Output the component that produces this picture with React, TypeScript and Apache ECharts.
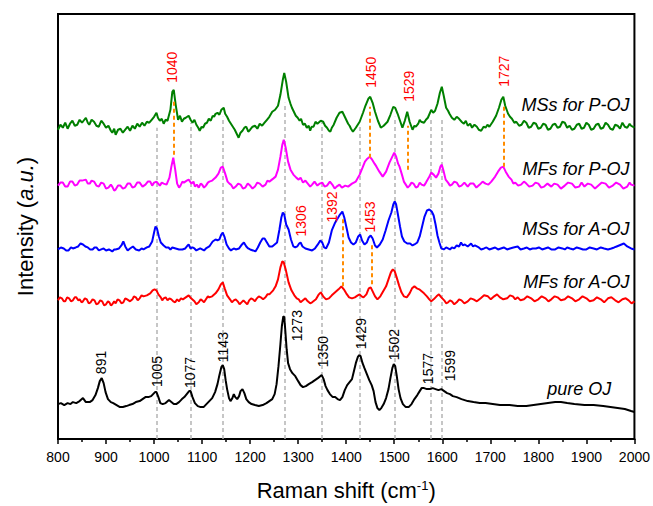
import React, { useEffect, useRef } from "react";
import * as echarts from "echarts";

// Raman shift (cm-1), intensity (a.u., vertically offset traces)
const msPOJ: [number, number][] = [
  [800,310],[805,315],[810,312],[815,317],[820,311],[825,316],[830,319],[835,314],[840,315],[845,320],[850,317],[858,322],[862,317],[865,315],[870,320],[875,318],[880,314],[885,313],[890,319],[895,316],[900,312],[905,314],[910,309],[913,307],[917,311],[920,305],[925,310],[930,311],[935,307],[940,310],[945,313],[950,309],[955,314],[960,311],[965,316],[970,313],[975,317],[980,314],[985,318],[990,317],[995,320],[1000,323],[1005,327],[1008,322],[1012,319],[1016,321],[1020,316],[1024,320],[1028,319],[1034,330],[1038,348],[1041,350],[1045,335],[1050,320],[1054,324],[1058,318],[1062,321],[1066,322],[1072,324],[1076,320],[1080,317],[1084,320],[1088,315],[1092,312],[1095,309],[1099,313],[1102,312],[1106,316],[1110,317],[1114,321],[1118,319],[1122,324],[1125,323],[1128,326],[1132,327],[1136,325],[1140,330],[1145,332],[1148,326],[1152,323],[1156,319],[1160,316],[1164,313],[1168,310],[1172,306],[1176,302],[1180,307],[1184,309],[1188,312],[1192,313],[1196,308],[1200,310],[1205,313],[1210,314],[1215,311],[1220,316],[1225,314],[1230,317],[1235,320],[1240,323],[1246,328],[1252,330],[1258,334],[1263,345],[1268,360],[1271,367],[1275,358],[1280,342],[1284,336],[1287,332],[1291,328],[1295,324],[1299,322],[1303,319],[1306,321],[1310,315],[1314,316],[1318,312],[1322,314],[1325,309],[1328,313],[1332,313],[1336,318],[1340,316],[1347,319],[1352,318],[1356,314],[1360,312],[1364,309],[1367,308],[1370,312],[1374,315],[1380,322],[1386,327],[1392,328],[1398,322],[1404,316],[1407,314],[1410,311],[1414,308],[1420,312],[1424,315],[1428,318],[1435,327],[1440,334],[1446,341],[1450,343],[1455,337],[1460,328],[1466,319],[1472,312],[1478,314],[1482,316],[1486,318],[1492,325],[1498,333],[1502,332],[1507,326],[1512,319],[1517,312],[1522,319],[1527,328],[1532,318],[1535,314],[1538,310],[1542,314],[1545,313],[1550,316],[1553,320],[1556,318],[1562,317],[1566,320],[1570,322],[1577,330],[1581,327],[1585,329],[1590,336],[1595,347],[1599,353],[1603,344],[1608,332],[1612,329],[1615,326],[1620,322],[1625,320],[1630,323],[1635,321],[1640,318],[1645,316],[1649,319],[1653,314],[1658,316],[1662,312],[1667,315],[1672,313],[1676,310],[1681,309],[1686,313],[1690,312],[1694,315],[1698,313],[1705,318],[1712,324],[1718,332],[1723,340],[1727,343],[1731,334],[1737,326],[1741,323],[1745,321],[1750,317],[1754,318],[1760,314],[1765,315],[1770,319],[1775,317],[1780,312],[1785,313],[1790,317],[1795,316],[1800,311],[1805,312],[1810,316],[1815,315],[1820,310],[1825,311],[1830,315],[1835,316],[1840,312],[1845,313],[1850,318],[1855,317],[1860,312],[1865,314],[1870,310],[1875,311],[1880,315],[1885,316],[1890,311],[1895,312],[1900,317],[1905,315],[1910,310],[1915,311],[1920,315],[1925,316],[1930,311],[1935,312],[1940,317],[1945,315],[1950,311],[1955,310],[1960,315],[1965,314],[1970,311],[1975,317],[1980,313],[1985,312],[1990,316],[1993,314],[2000,312]
];

const mfPOJ: [number, number][] = [
  [800,254],[805,257],[810,257],[815,253],[820,253],[825,258],[830,258],[835,254],[840,255],[845,259],[850,259],[858,260],[862,256],[866,256],[870,259],[875,258],[880,254],[885,253],[890,257],[895,256],[900,251],[905,252],[910,255],[913,253],[917,249],[920,250],[925,254],[930,254],[935,251],[940,252],[945,256],[950,256],[955,252],[960,253],[965,257],[970,257],[976,253],[982,255],[987,258],[992,258],[996,254],[1000,257],[1005,258],[1012,254],[1016,257],[1020,256],[1026,255],[1032,262],[1036,273],[1040,282],[1044,270],[1048,256],[1052,252],[1055,254],[1059,258],[1062,257],[1068,259],[1072,260],[1078,256],[1082,258],[1085,253],[1089,255],[1093,252],[1097,256],[1100,255],[1104,252],[1108,254],[1112,257],[1115,258],[1121,259],[1128,262],[1134,266],[1139,272],[1143,273],[1148,266],[1153,258],[1157,256],[1160,255],[1165,251],[1170,253],[1175,256],[1180,255],[1185,251],[1190,252],[1195,256],[1200,254],[1205,251],[1210,253],[1215,257],[1220,256],[1226,253],[1232,255],[1236,259],[1240,258],[1248,261],[1253,263],[1258,270],[1263,283],[1267,295],[1270,300],[1274,292],[1279,278],[1284,270],[1290,265],[1296,262],[1301,260],[1305,262],[1310,257],[1315,259],[1320,256],[1325,253],[1329,255],[1334,258],[1340,254],[1345,256],[1350,257],[1355,253],[1360,254],[1366,258],[1371,255],[1376,251],[1380,253],[1386,255],[1391,252],[1398,254],[1404,253],[1412,256],[1420,258],[1428,265],[1434,272],[1439,278],[1444,281],[1449,283],[1454,280],[1459,276],[1463,273],[1469,268],[1476,263],[1483,268],[1490,277],[1495,282],[1500,287],[1504,283],[1508,276],[1511,273],[1516,265],[1520,258],[1524,255],[1528,252],[1532,254],[1536,257],[1540,256],[1545,252],[1549,253],[1553,257],[1557,255],[1562,254],[1566,257],[1572,262],[1577,267],[1582,265],[1587,262],[1592,266],[1596,273],[1599,275],[1603,268],[1607,260],[1612,257],[1616,254],[1620,255],[1625,258],[1630,257],[1635,253],[1640,254],[1646,257],[1653,253],[1658,256],[1665,256],[1671,252],[1678,255],[1684,258],[1690,256],[1696,255],[1702,258],[1710,263],[1716,268],[1722,272],[1727,273],[1732,268],[1738,263],[1744,260],[1748,256],[1752,257],[1758,254],[1764,255],[1770,258],[1775,256],[1781,253],[1788,254],[1794,257],[1800,256],[1806,252],[1812,253],[1819,256],[1827,253],[1833,256],[1840,255],[1847,251],[1855,254],[1862,257],[1870,256],[1877,252],[1885,253],[1890,257],[1896,253],[1903,256],[1910,255],[1918,251],[1925,254],[1932,257],[1940,256],[1947,252],[1955,254],[1962,257],[1970,255],[1977,251],[1985,253],[1990,257],[1993,255],[2000,254]
];

const msAOJ: [number, number][] = [
  [800,190],[806,192],[812,191],[817,189],[822,189],[827,192],[831,191],[837,192],[842,193],[847,196],[852,195],[857,193],[862,192],[867,190],[872,190],[876,192],[880,192],[885,189],[890,190],[895,191],[900,189],[906,190],[913,188],[917,190],[920,190],[927,191],[932,194],[936,198],[940,193],[945,189],[950,191],[956,193],[962,190],[969,189],[974,191],[978,190],[985,192],[990,193],[996,198],[1000,207],[1003,213],[1006,211],[1010,203],[1014,197],[1020,194],[1025,192],[1030,192],[1034,190],[1038,192],[1045,191],[1052,190],[1059,190],[1065,191],[1070,194],[1072,195],[1076,191],[1080,192],[1084,191],[1088,189],[1092,190],[1096,191],[1100,190],[1104,189],[1108,191],[1115,193],[1122,198],[1128,200],[1132,199],[1136,200],[1140,205],[1143,207],[1147,202],[1151,195],[1156,191],[1160,189],[1163,190],[1167,191],[1170,190],[1177,191],[1183,195],[1187,197],[1192,193],[1196,191],[1200,190],[1206,189],[1211,188],[1216,192],[1221,197],[1226,201],[1230,201],[1235,197],[1240,193],[1246,193],[1251,195],[1256,197],[1261,210],[1265,222],[1268,227],[1271,225],[1275,215],[1280,210],[1285,200],[1290,193],[1294,192],[1298,193],[1302,196],[1305,197],[1309,193],[1315,191],[1322,190],[1329,189],[1335,191],[1341,195],[1346,199],[1350,197],[1354,192],[1358,191],[1364,197],[1370,209],[1376,216],[1382,221],[1387,225],[1392,228],[1396,222],[1401,211],[1405,202],[1410,197],[1415,195],[1420,197],[1425,203],[1429,205],[1433,199],[1438,195],[1443,197],[1447,202],[1451,204],[1455,201],[1460,194],[1464,192],[1470,195],[1476,200],[1482,209],[1488,219],[1494,227],[1498,235],[1501,238],[1504,235],[1508,224],[1512,213],[1516,203],[1521,198],[1527,196],[1533,196],[1538,194],[1542,195],[1548,197],[1553,203],[1558,213],[1563,223],[1568,229],[1573,230],[1578,228],[1582,224],[1586,215],[1590,204],[1594,197],[1598,191],[1603,190],[1608,192],[1612,191],[1616,190],[1620,192],[1625,191],[1630,194],[1635,193],[1639,197],[1643,194],[1647,195],[1653,193],[1660,196],[1664,193],[1668,194],[1676,192],[1681,190],[1687,191],[1692,192],[1698,190],[1704,191],[1710,192],[1716,190],[1722,191],[1728,192],[1735,190],[1741,191],[1748,192],[1757,193],[1763,190],[1770,191],[1776,192],[1782,190],[1788,191],[1795,191],[1801,192],[1808,190],[1814,191],[1820,192],[1827,190],[1835,190],[1842,192],[1850,191],[1855,190],[1860,192],[1866,191],[1873,190],[1880,192],[1887,191],[1893,190],[1900,190],[1907,192],[1915,191],[1922,190],[1930,192],[1937,191],[1945,190],[1952,191],[1958,192],[1963,193],[1968,194],[1973,195],[1978,196],[1985,193],[1993,191],[2000,190]
];

const mfAOJ: [number, number][] = [
  [800,139],[804,142],[808,141],[812,138],[815,138],[819,142],[823,141],[827,138],[831,139],[835,142],[838,142],[842,139],[845,140],[849,137],[852,138],[856,141],[860,140],[864,136],[868,137],[872,140],[876,139],[880,135],[884,136],[888,139],[892,138],[896,134],[900,135],[904,138],[907,137],[910,134],[913,135],[917,138],[920,136],[924,140],[928,139],[932,136],[936,137],[940,141],[944,140],[950,138],[955,140],[958,143],[962,142],[966,139],[970,141],[974,144],[978,143],[985,144],[992,146],[997,149],[1001,150],[1005,149],[1009,145],[1014,142],[1017,139],[1020,141],[1024,142],[1028,139],[1032,141],[1036,140],[1040,138],[1044,137],[1048,140],[1052,138],[1056,141],[1060,140],[1066,142],[1072,144],[1077,141],[1084,138],[1088,135],[1093,137],[1097,140],[1100,139],[1104,137],[1108,140],[1112,143],[1115,142],[1121,143],[1128,146],[1134,150],[1139,155],[1143,157],[1147,151],[1152,144],[1158,140],[1162,137],[1166,139],[1170,140],[1174,138],[1178,135],[1182,137],[1186,139],[1190,137],[1194,135],[1198,139],[1202,141],[1206,140],[1210,138],[1214,141],[1218,143],[1222,142],[1227,140],[1232,142],[1236,145],[1240,145],[1248,149],[1253,153],[1258,160],[1263,172],[1267,178],[1270,177],[1274,170],[1280,157],[1286,149],[1292,144],[1297,141],[1301,140],[1305,137],[1310,139],[1315,141],[1320,138],[1325,136],[1329,137],[1337,140],[1343,145],[1347,147],[1352,143],[1358,140],[1364,141],[1370,144],[1377,147],[1384,150],[1390,153],[1395,150],[1400,146],[1406,142],[1412,141],[1418,142],[1424,144],[1428,145],[1432,143],[1436,142],[1442,145],[1447,151],[1451,152],[1455,148],[1460,143],[1465,140],[1471,143],[1477,148],[1483,153],[1488,160],[1493,167],[1497,170],[1501,168],[1505,162],[1510,154],[1515,147],[1520,143],[1526,142],[1532,146],[1537,151],[1542,153],[1547,151],[1552,150],[1557,148],[1562,146],[1568,143],[1573,140],[1577,138],[1582,140],[1588,143],[1593,145],[1598,142],[1604,139],[1608,136],[1612,137],[1616,139],[1620,138],[1625,135],[1630,137],[1635,140],[1640,139],[1646,136],[1653,138],[1659,141],[1665,140],[1672,138],[1680,141],[1687,144],[1695,143],[1701,140],[1708,143],[1714,145],[1720,142],[1727,140],[1735,141],[1741,144],[1747,143],[1752,140],[1757,142],[1763,139],[1770,140],[1777,143],[1785,141],[1792,138],[1800,140],[1807,143],[1815,141],[1821,138],[1827,140],[1834,143],[1840,142],[1847,139],[1855,140],[1862,143],[1870,141],[1877,138],[1885,140],[1892,143],[1900,141],[1907,138],[1915,139],[1922,142],[1930,140],[1937,137],[1945,141],[1952,142],[1960,139],[1967,137],[1975,140],[1982,141],[1988,139],[1994,136],[2000,138]
];

const pureOJ: [number, number][] = [
  [800,35],[806,36],[813,34],[820,36],[826,35],[831,37],[838,36],[845,38],[852,41],[858,37],[866,37],[872,39],[878,44],[883,51],[887,58],[891,61],[895,56],[899,47],[904,40],[910,37],[915,36],[922,34],[929,32],[935,32],[942,33],[948,34],[955,35],[962,37],[970,38],[976,40],[982,42],[988,42],[994,43],[998,45],[1002,47],[1005,47],[1009,42],[1013,36],[1018,35],[1024,36],[1031,39],[1036,37],[1041,35],[1046,35],[1052,37],[1058,40],[1063,42],[1068,45],[1073,48],[1076,48],[1080,42],[1085,36],[1091,33],[1097,32],[1103,32],[1109,35],[1115,38],[1121,41],[1127,47],[1132,55],[1136,64],[1140,72],[1143,74],[1146,70],[1149,59],[1152,50],[1156,41],[1159,38],[1163,41],[1166,45],[1169,42],[1173,40],[1177,43],[1180,48],[1184,50],[1188,46],[1192,40],[1197,37],[1203,35],[1210,34],[1218,33],[1226,34],[1234,36],[1240,38],[1246,40],[1251,45],[1255,55],[1259,73],[1263,95],[1266,113],[1269,123],[1271,122],[1273,110],[1276,90],[1279,76],[1283,70],[1288,66],[1294,63],[1300,58],[1305,54],[1310,52],[1316,53],[1322,55],[1329,57],[1335,59],[1341,61],[1346,63],[1349,64],[1353,60],[1357,53],[1361,49],[1366,45],[1372,42],[1377,42],[1382,40],[1387,39],[1392,42],[1397,49],[1402,54],[1407,57],[1412,60],[1416,68],[1420,76],[1424,82],[1427,84],[1430,83],[1434,76],[1438,71],[1443,65],[1448,59],[1453,54],[1457,48],[1461,37],[1465,31],[1469,29],[1473,31],[1478,35],[1483,41],[1488,50],[1492,61],[1496,71],[1499,75],[1502,73],[1505,64],[1509,50],[1513,41],[1518,35],[1524,32],[1530,32],[1536,35],[1542,40],[1548,44],[1553,48],[1557,51],[1562,51],[1568,50],[1574,50],[1580,51],[1586,50],[1592,49],[1598,50],[1604,48],[1610,46],[1616,45],[1622,43],[1630,42],[1640,40],[1653,38],[1665,37],[1678,36],[1690,36],[1705,35],[1720,34],[1740,34],[1757,33],[1775,33],[1790,34],[1805,35],[1820,36],[1835,37],[1847,37],[1860,36],[1875,35],[1896,34],[1915,34],[1935,33],[1950,32],[1965,31],[1980,30],[1993,28],[2000,27]
];

const seriesNames = ["MSs for P-OJ", "MFs for P-OJ", "MSs for A-OJ", "MFs for A-OJ", "pure OJ"];
const seriesColors = ["#008000", "#ff00ff", "#0000ff", "#ff0000", "#000000"];
const seriesList = [msPOJ, mfPOJ, msAOJ, mfAOJ, pureOJ];
// series name label anchor (right end x, centre y)
const nameLabelX = [1990, 1990, 1990, 1990, 1952];
const nameLabelY = [335, 271, 210, 157, 50];

// grey dashed reference lines: position and top end
const greyLineX = [1005, 1077, 1143, 1273, 1350, 1429, 1502, 1577, 1599];
const greyLineTop = [312, 317, 323, 337, 317, 313, 323, 320, 322];

// orange dashed lines: position, upper end, lower end
const orangeLineX = [1040, 1450, 1529, 1727, 1392, 1453];
const orangeLineTop = [338, 333, 314, 333, 222, 195];
const orangeLineBottom = [285, 282, 270, 273, 153, 155];

// peak labels (black) : text, x centre, y bottom
const blackPeakText = ["891", "1005", "1077", "1143", "1273", "1350", "1429", "1502", "1577", "1599"];
const blackPeakX = [890, 1006, 1074, 1144, 1298, 1352, 1430, 1499, 1571, 1617];
const blackPeakY = [65, 52, 51, 77, 98, 72, 90, 79, 55, 58];

// peak labels (red)
const redPeakText = ["1040", "1450", "1529", "1727", "1306", "1392", "1453"];
const redPeakX = [1038, 1452, 1531, 1729, 1305, 1370, 1450];
const redPeakY = [357, 352, 338, 353, 203, 217, 207];

const xTicks = { min: 800, max: 2000, interval: 100 };
const FONT = "'Liberation Sans', Arial, Helvetica, sans-serif";

export default function App() {
  const ref = useRef<HTMLDivElement>(null);
  useEffect(() => {
    if (!ref.current) return;
    const chart = echarts.init(ref.current, undefined, { renderer: "svg" });
    const option: any = {
      animation: false,
      backgroundColor: "#fff",
      textStyle: { fontFamily: FONT },
      grid: { left: 58, right: 17, top: 14, bottom: 66, show: true, borderColor: "#000", borderWidth: 2, backgroundColor: "transparent" },
      xAxis: {
        type: "value",
        min: xTicks.min,
        max: xTicks.max,
        interval: xTicks.interval,
        name: "Raman shift (cm{s|-1})",
        nameLocation: "middle",
        nameGap: 40,
        nameTextStyle: {
          fontSize: 22, color: "#000", fontFamily: FONT,
          rich: { s: { fontSize: 13, color: "#000", fontFamily: FONT, verticalAlign: "top" } },
        },
        axisLine: { show: true, lineStyle: { color: "#000", width: 2 } },
        axisTick: { show: true, length: 5, lineStyle: { color: "#000", width: 1.5 } },
        minorTick: { show: true, splitNumber: 2, length: 3, lineStyle: { color: "#000", width: 1.5 } },
        axisLabel: { color: "#000", fontSize: 14, margin: 11, fontFamily: FONT, formatter: (v: number) => String(v) },
        splitLine: { show: false },
      },
      yAxis: {
        type: "value",
        min: 0,
        max: 426,
        name: "Intensity ({i|a.u.})",
        nameLocation: "middle",
        nameRotate: 90,
        nameGap: 22,
        nameTextStyle: {
          fontSize: 22, color: "#000", fontFamily: FONT,
          rich: { i: { fontSize: 22, fontStyle: "italic", color: "#000", fontFamily: FONT } },
        },
        axisLine: { show: true, lineStyle: { color: "#000", width: 2 } },
        axisTick: { show: false },
        axisLabel: { show: false },
        splitLine: { show: false },
      },
      series: [
        {
          type: "line",
          data: [],
          z: 1,
          markLine: {
            z: 1,
            silent: true,
            symbol: ["none", "none"],
            label: { show: false },
            lineStyle: { color: "#b4b4b4", width: 1.5, type: [4, 3] },
            data: greyLineX.map((x, i) => [{ coord: [x, 0] }, { coord: [x, greyLineTop[i]] }]),
          },
        },
        ...seriesList.map((d, i) => ({
          name: seriesNames[i],
          type: "line",
          data: d,
          z: 2,
          showSymbol: false,
          symbol: "none",
          lineStyle: { color: seriesColors[i], width: 2 },
          itemStyle: { color: seriesColors[i] },
        })),
        {
          type: "line",
          data: [],
          z: 10,
          markLine: {
            z: 10,
            silent: true,
            symbol: ["none", "none"],
            label: { show: false },
            lineStyle: { color: "#ff8c00", width: 2, type: [4, 3] },
            data: orangeLineX.map((x, i) => [{ coord: [x, orangeLineBottom[i]] }, { coord: [x, orangeLineTop[i]] }]),
          },
        },
      ],
    };
    chart.setOption(option);

    const px = (x: number, y: number) => chart.convertToPixel({ gridIndex: 0 }, [x, y]) as number[];
    const rotated = (t: string, x: number, y: number, color: string) => {
      const [a, b] = px(x, y);
      return {
        type: "text",
        x: a,
        y: b,
        rotation: Math.PI / 2,
        z: 100,
        style: {
          text: t, fill: color, fontSize: 14, fontFamily: FONT,
          align: "left", verticalAlign: "middle", textAlign: "left", textVerticalAlign: "middle",
        },
      };
    };
    const elements: any[] = [];
    blackPeakText.forEach((t, i) => elements.push(rotated(t, blackPeakX[i], blackPeakY[i], "#000")));
    redPeakText.forEach((t, i) => elements.push(rotated(t, redPeakX[i], redPeakY[i], "#ff0000")));
    seriesNames.forEach((n, i) => {
      const [a, b] = px(nameLabelX[i], nameLabelY[i]);
      elements.push({
        type: "text",
        x: a,
        y: b,
        z: 100,
        style: {
          text: n, fill: "#000", fontSize: 18, fontStyle: "italic", fontFamily: FONT,
          align: "right", verticalAlign: "middle", textAlign: "right", textVerticalAlign: "middle",
        },
      });
    });
    chart.setOption({ graphic: elements });

    return () => chart.dispose();
  }, []);
  return (
    <div
      ref={ref}
      style={{ position: "fixed", left: 0, top: 0, width: 653, height: 506, background: "#fff" }}
    />
  );
}
